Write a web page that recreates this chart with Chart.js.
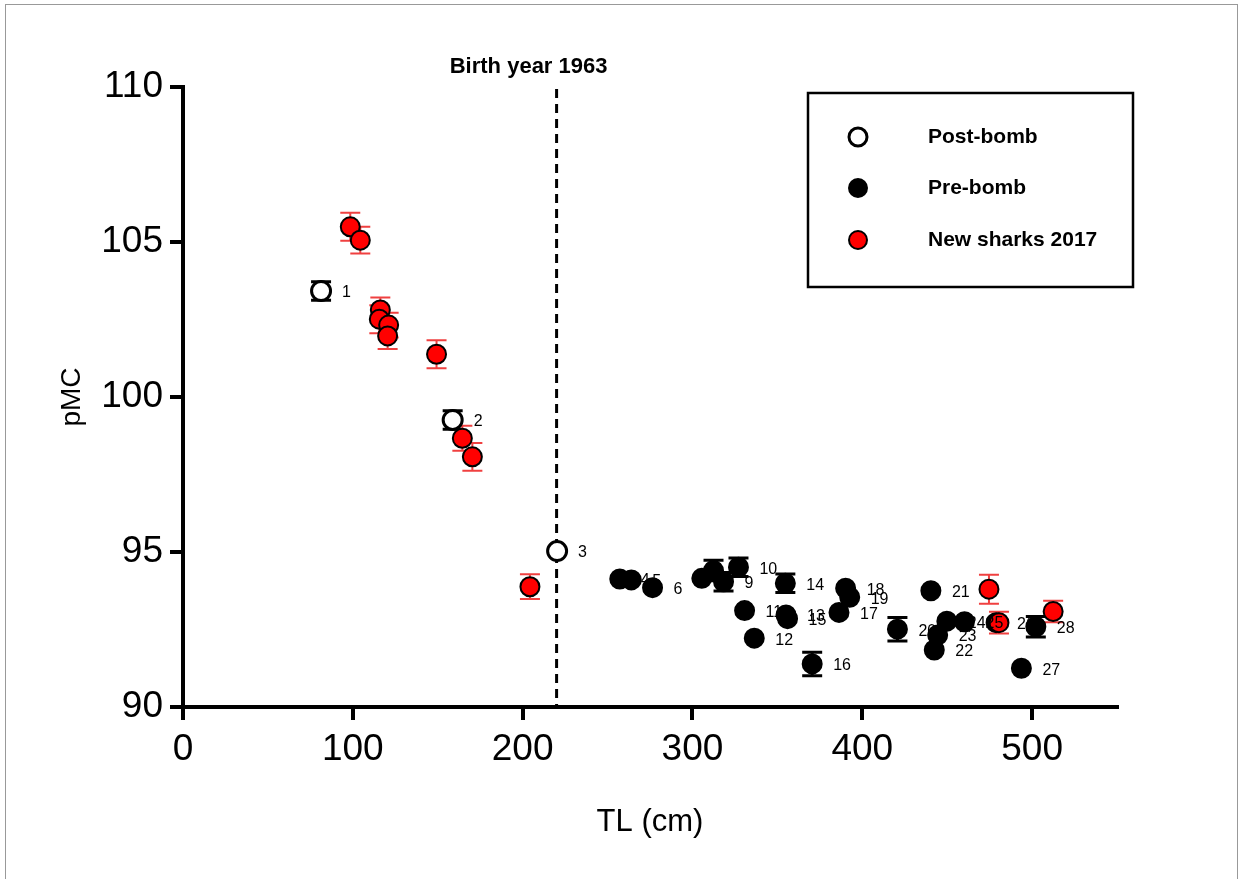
<!DOCTYPE html>
<html>
<head>
<meta charset="utf-8">
<script src="https://cdn.jsdelivr.net/npm/chart.js@4.4.0/dist/chart.umd.min.js"></script>
<style>
  body { margin: 0; background: #fff; }
  #wrap { position: relative; width: 1239px; height: 879px; }
  #frame { position: absolute; left: 5px; top: 4px; width: 1231px; height: 880px;
           border-left: 1px solid #999; border-top: 1px solid #999; border-right: 1px solid #999; }
</style>
</head>
<body>
<div id="wrap">
  <div id="frame"></div>
  <canvas id="chart"></canvas>
</div>
<script>
// Post-bomb sharks (open circles)
const postIds = ["1", "2", "3"];
const postTL = [81.3, 158.8, 220.3];
const postPMC = [103.42, 99.26, 95.03];
const postErr = [0.3, 0.3, 0];

// Pre-bomb sharks (filled black)
const preIds = ["4", "5", "6", "7", "8", "9", "10", "11", "12", "13", "14", "15", "16",
  "17", "18", "19", "20", "21", "22", "23", "24", "25", "26", "27", "28"];
const preTL = [257.2, 264.0, 276.5, 305.5, 312.4, 318.3, 327.1, 330.7, 336.4, 355.1, 354.7, 356.0, 370.5,
  386.3, 390.2, 392.6, 420.7, 440.4, 442.4, 444.4, 449.8, 460.2, 478.8, 493.7, 502.2];
const prePMC = [94.13, 94.10, 93.85, 94.15, 94.40, 94.04, 94.51, 93.11, 92.22, 92.97, 93.99, 92.85, 91.39,
  93.05, 93.83, 93.54, 92.51, 93.75, 91.84, 92.32, 92.77, 92.75, 92.72, 91.25, 92.59];
const preErr = [0, 0, 0, 0, 0.33, 0.3, 0.3, 0, 0, 0, 0.3, 0, 0.38,
  0, 0, 0, 0.38, 0, 0, 0, 0, 0, 0, 0, 0.33];

// New sharks 2017 (red)
const newTL = [98.5, 104.4, 116.2, 115.6, 121.1, 120.5, 149.3, 164.5, 170.4, 204.3, 474.6, 480.5, 512.4];
const newPMC = [105.49, 105.06, 102.81, 102.51, 102.32, 101.97, 101.38, 98.67, 98.07, 93.88, 93.80, 92.72, 93.08];
const newErr = [0.45, 0.43, 0.4, 0.45, 0.4, 0.42, 0.45, 0.4, 0.45, 0.4, 0.47, 0.35, 0.35];

const xTicks = [0, 100, 200, 300, 400, 500];
const yTicks = [90, 95, 100, 105, 110];
const birthTL = 220;
const birthLabel = "Birth year 1963";
const legendLabels = ["Post-bomb", "Pre-bomb", "New sharks 2017"];

const sans = "'Liberation Sans', Arial, sans-serif";

function pts(xs, ys) {
  return xs.map((x, i) => ({x: x, y: ys[i]}));
}

// error bars below the markers, dashed birth-year line
const underlay = {
  id: "underlay",
  beforeDatasetsDraw(chart) {
    const ctx = chart.ctx;
    const xs = chart.scales.x, ys = chart.scales.y;
    const area = chart.chartArea;

    ctx.save();
    const bx = xs.getPixelForValue(birthTL);
    ctx.strokeStyle = "#000";
    ctx.lineWidth = 3;
    ctx.setLineDash([9, 6]);
    ctx.beginPath();
    ctx.moveTo(bx, area.top + 2);
    ctx.lineTo(bx, area.bottom);
    ctx.stroke();
    ctx.setLineDash([]);

    ctx.font = "bold 22px " + sans;
    ctx.fillStyle = "#000";
    ctx.textAlign = "center";
    ctx.textBaseline = "middle";
    ctx.fillText(birthLabel, bx - 28, area.top - 20);

    chart.data.datasets.forEach((ds) => {
      ctx.strokeStyle = ds.errColor;
      ctx.lineWidth = ds.errWidth;
      ds.data.forEach((p, i) => {
        const e = ds.errors[i];
        if (!e) return;
        const px = xs.getPixelForValue(p.x);
        const top = ys.getPixelForValue(p.y + e);
        const bot = ys.getPixelForValue(p.y - e);
        ctx.beginPath();
        ctx.moveTo(px, top);
        ctx.lineTo(px, bot);
        ctx.moveTo(px - 10, top);
        ctx.lineTo(px + 10, top);
        ctx.moveTo(px - 10, bot);
        ctx.lineTo(px + 10, bot);
        ctx.stroke();
      });
    });
    ctx.restore();
  },
};

// point numbers and the boxed legend
const overlay = {
  id: "overlay",
  afterDatasetsDraw(chart) {
    const ctx = chart.ctx;
    const xs = chart.scales.x, ys = chart.scales.y;
    ctx.save();
    ctx.font = "16px " + sans;
    ctx.fillStyle = "#000";
    ctx.textAlign = "left";
    ctx.textBaseline = "middle";
    chart.data.datasets.forEach((ds) => {
      if (!ds.ids) return;
      ds.data.forEach((p, i) => {
        ctx.fillText(ds.ids[i], xs.getPixelForValue(p.x) + 21, ys.getPixelForValue(p.y) + 2);
      });
    });

    // legend box
    const lx = 808, ly = 93, lw = 325, lh = 194;
    ctx.lineWidth = 2.5;
    ctx.strokeStyle = "#000";
    ctx.strokeRect(lx, ly, lw, lh);
    ctx.font = "bold 21px " + sans;
    const rows = [137, 188, 240];
    chart.data.datasets.forEach((ds, i) => {
      ctx.beginPath();
      ctx.arc(858, rows[i], 9, 0, Math.PI * 2);
      ctx.fillStyle = ds.backgroundColor;
      ctx.fill();
      ctx.lineWidth = ds.borderWidth;
      ctx.strokeStyle = "#000";
      ctx.stroke();
      ctx.fillStyle = "#000";
      ctx.fillText(legendLabels[i], 928, rows[i]);
    });
    ctx.restore();
  },
};

new Chart(document.getElementById("chart"), {
  type: "scatter",
  data: {
    datasets: [
      {
        label: legendLabels[0],
        data: pts(postTL, postPMC),
        ids: postIds,
        errors: postErr,
        errColor: "#000",
        errWidth: 3,
        backgroundColor: "#fff",
        borderColor: "#000",
        borderWidth: 3,
        pointRadius: 9.5,
        order: 1,
      },
      {
        label: legendLabels[1],
        data: pts(preTL, prePMC),
        ids: preIds,
        errors: preErr,
        errColor: "#000",
        errWidth: 3,
        backgroundColor: "#000",
        borderColor: "#000",
        borderWidth: 2,
        pointRadius: 9.5,
        order: 2,
      },
      {
        label: legendLabels[2],
        data: pts(newTL, newPMC),
        errors: newErr,
        errColor: "#f04040",
        errWidth: 2,
        backgroundColor: "#ff0000",
        borderColor: "#000",
        borderWidth: 2,
        pointRadius: 9.5,
        order: 0,
      },
    ],
  },
  options: {
    responsive: true,
    maintainAspectRatio: false,
    animation: false,
    layout: {
      padding: {left: 49, top: 87, right: 122, bottom: 34},
    },
    plugins: {
      legend: {display: false},
      tooltip: {enabled: false},
    },
    scales: {
      x: {
        type: "linear",
        min: 0,
        max: 550,
        afterBuildTicks: (s) => { s.ticks = xTicks.map((v) => ({value: v})); },
        afterFit: (s) => { s.height = 138; },
        border: {display: true, color: "#000", width: 4},
        grid: {drawOnChartArea: false, color: "#000", lineWidth: 4, tickLength: 13},
        ticks: {color: "#000", font: {family: sans, size: 37}, padding: 8, maxRotation: 0},
        title: {display: true, text: "TL (cm)", color: "#000", font: {family: sans, size: 31}, padding: 4},
      },
      y: {
        type: "linear",
        min: 90,
        max: 110,
        afterBuildTicks: (s) => { s.ticks = yTicks.map((v) => ({value: v})); },
        afterFit: (s) => { s.width = 134; },
        border: {display: true, color: "#000", width: 4},
        grid: {drawOnChartArea: false, color: "#000", lineWidth: 4, tickLength: 13},
        ticks: {color: "#000", font: {family: sans, size: 37}, padding: 7},
        title: {display: true, text: "pMC", color: "#000", font: {family: sans, size: 28}, padding: 6},
      },
    },
  },
  plugins: [underlay, overlay],
});
</script>
</body>
</html>
